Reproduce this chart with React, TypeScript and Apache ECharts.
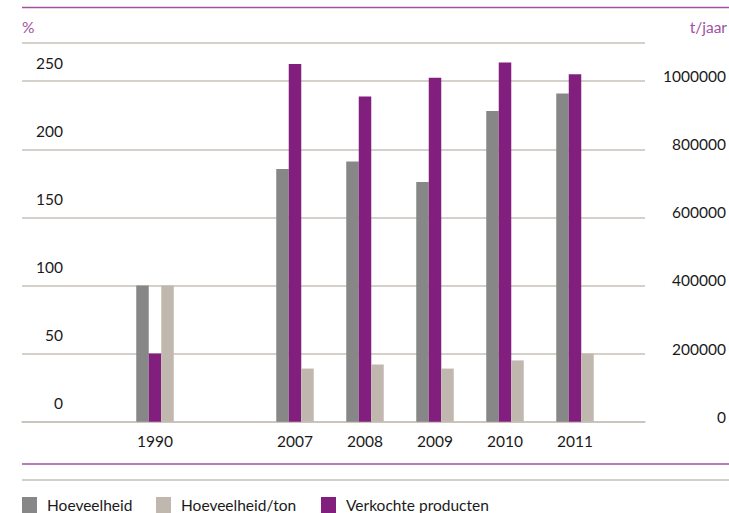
import React, { useEffect, useRef } from "react";
import * as echarts from "echarts";

const years = ["1990", "2007", "2008", "2009", "2010", "2011"];
const hoeveelheid = [100, 185.5, 191, 176, 228, 241];
const hoeveelheidPerTon = [100, 39, 42, 39, 45, 50];
const verkochteProducten = [200000, 1050000, 955000, 1010000, 1055000, 1020000];
const leftTicks = [0, 50, 100, 150, 200, 250];
const rightTicks = [0, 200000, 400000, 600000, 800000, 1000000];

const GRAY = "#878787";
const BEIGE = "#c0b8ae";
const PURPLE = "#821e7e";
const LINE_PURPLE = "#a0529f";
const GRID = "#c8c1b9";
const TEXT = "#1a1a1a";
const FONT = "Lato";

// slot position on the x axis: one empty slot between 1990 and 2007
const slot = (i: number) => (i === 0 ? 0 : i + 1);

export default function App() {
  const ref = useRef<HTMLDivElement>(null);
  useEffect(() => {
    if (!ref.current) return;
    const chart = echarts.init(ref.current, null, { renderer: "svg" });
    const slots = years.map((_, i) => slot(i));
    const yearBySlot: Record<number, string> = {};
    years.forEach((y, i) => (yearBySlot[slot(i)] = y));

    const legendBase = {
      top: 497,
      padding: 0,
      itemWidth: 15,
      itemHeight: 16,
      icon: "rect",
      textStyle: { fontFamily: FONT, fontSize: 15.5, color: TEXT, padding: [0, 0, 0, 5] },
      selectedMode: false,
    };

    chart.setOption({
      animation: false,
      textStyle: { fontFamily: FONT },
      grid: { left: 22, right: 82, top: 43, bottom: 91.3 },
      legend: [
        { ...legendBase, left: 22, data: ["Hoeveelheid"] },
        { ...legendBase, left: 156, data: ["Hoeveelheid/ton"] },
        { ...legendBase, left: 321, data: ["Verkochte producten"] },
      ],
      xAxis: {
        type: "value",
        min: -1.9,
        max: 7,
        splitLine: { show: false },
        axisTick: { show: false },
        axisLine: { show: true, lineStyle: { color: GRID, width: 1.5 } },
        axisLabel: {
          customValues: slots,
          formatter: (v: number) => yearBySlot[v] ?? "",
          fontFamily: FONT,
          fontSize: 15.5,
          color: TEXT,
          margin: 11,
        },
      },
      yAxis: [
        {
          type: "value",
          min: 0,
          max: 278,
          interval: 50,
          position: "left",
          axisLine: { show: false },
          axisTick: { show: false },
          splitLine: { show: true, lineStyle: { color: GRID, width: 1.5 } },
          axisLabel: {
            inside: true,
            align: "right",
            margin: 41,
            verticalAlign: "bottom",
            lineHeight: 37,
            fontFamily: FONT,
            fontSize: 15.5,
            color: TEXT,
            formatter: (v: number) => (leftTicks.includes(v) ? String(v) : ""),
          },
        },
        {
          type: "value",
          min: 0,
          max: 1112000,
          interval: 200000,
          position: "right",
          axisLine: { show: false },
          axisTick: { show: false },
          splitLine: { show: false },
          axisLabel: {
            align: "right",
            margin: 81,
            verticalAlign: "bottom",
            lineHeight: 10,
            fontFamily: FONT,
            fontSize: 15.5,
            color: TEXT,
            formatter: (v: number) => (rightTicks.includes(v) ? String(v) : ""),
          },
        },
      ],
      series: [
        {
          name: "Hoeveelheid",
          type: "bar",
          yAxisIndex: 0,
          barWidth: 12.5,
          barGap: "0%",
          itemStyle: { color: GRAY },
          data: hoeveelheid.map((v, i) => [slot(i), v]),
        },
        {
          name: "Verkochte producten",
          type: "bar",
          yAxisIndex: 1,
          barWidth: 12.5,
          barGap: "0%",
          itemStyle: { color: PURPLE },
          data: verkochteProducten.map((v, i) => [slot(i), v]),
        },
        {
          name: "Hoeveelheid/ton",
          type: "bar",
          yAxisIndex: 0,
          barWidth: 12.5,
          barGap: "0%",
          itemStyle: { color: BEIGE },
          data: hoeveelheidPerTon.map((v, i) => [slot(i), v]),
        },
      ],
      graphic: [
        { type: "line", shape: { x1: 22, y1: 7.5, x2: 729, y2: 7.5 }, style: { stroke: LINE_PURPLE, lineWidth: 1.5 } },
        { type: "line", shape: { x1: 22, y1: 464, x2: 729, y2: 464 }, style: { stroke: LINE_PURPLE, lineWidth: 1.5 } },
        { type: "line", shape: { x1: 22, y1: 480, x2: 729, y2: 480 }, style: { stroke: GRID, lineWidth: 1.5 } },
        {
          type: "text",
          left: 22,
          top: 19,
          style: { text: "%", fill: LINE_PURPLE, font: `15.5px ${FONT}` },
        },
        {
          type: "text",
          right: 2,
          top: 19,
          style: { text: "t/jaar", fill: LINE_PURPLE, font: `15.5px ${FONT}` },
        },
      ],
    });
    return () => chart.dispose();
  }, []);
  return (
    <div
      ref={ref}
      style={{ position: "fixed", left: 0, top: 0, width: 729, height: 513, background: "#fff" }}
    />
  );
}
